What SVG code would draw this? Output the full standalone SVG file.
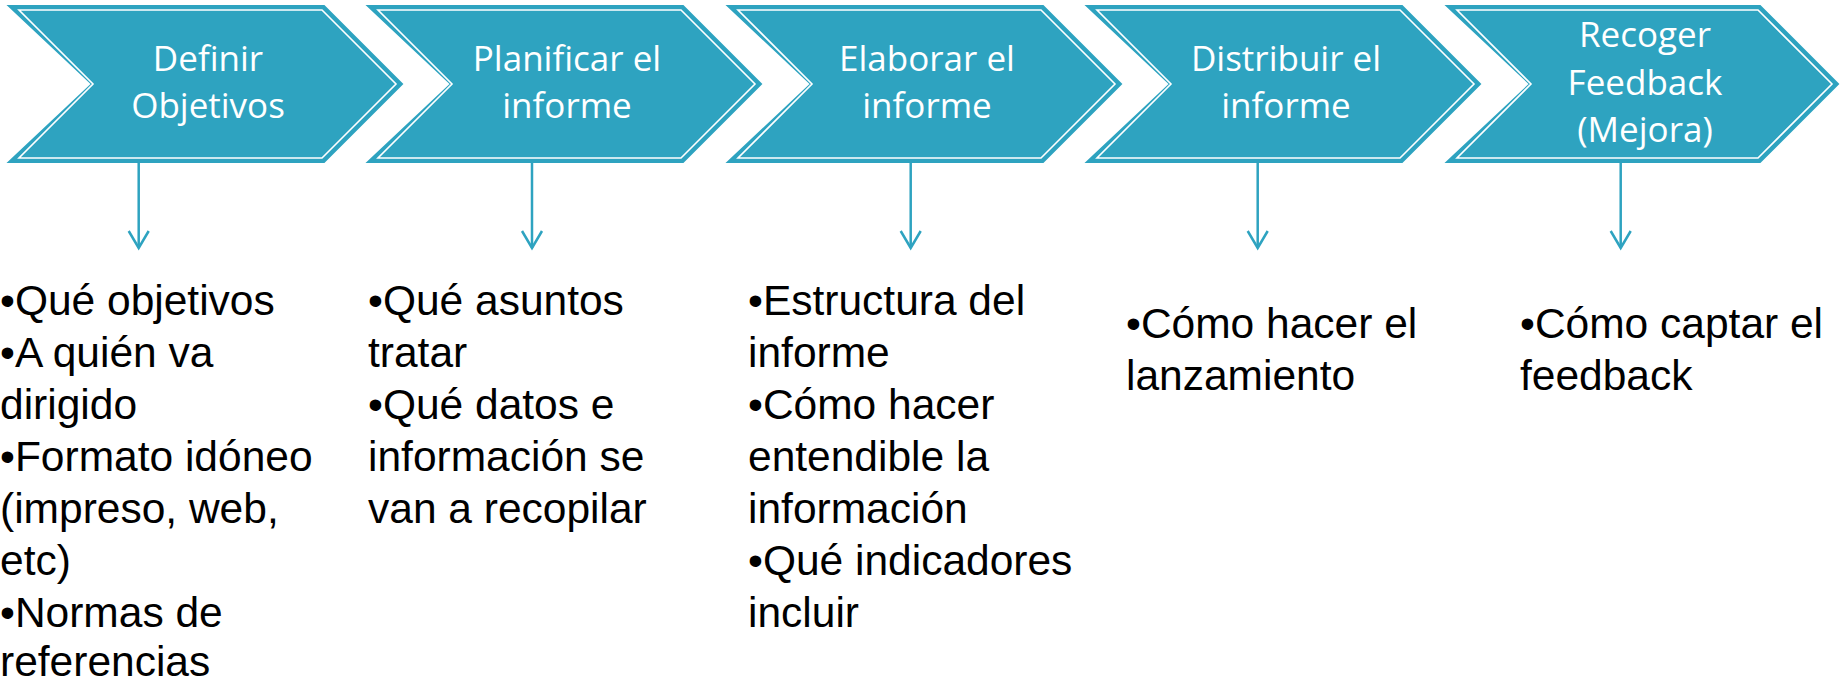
<svg xmlns="http://www.w3.org/2000/svg" width="1841" height="678" viewBox="0 0 1841 678">
  <defs>
    <style>
      .outer { fill: #2ea3c0; stroke: #2ea3c0; stroke-width: 2; stroke-linejoin: miter; }
      .inner { fill: #2ea3c0; stroke: #ffffff; stroke-width: 1.6; stroke-linejoin: miter; }
      .lbl { font-family: "Open Sans", "DejaVu Sans", sans-serif; font-size: 35px; fill: #ffffff; text-anchor: middle; }
      .body { font-family: "Liberation Sans", Arial, sans-serif; font-size: 42.5px; fill: #000000; }
      .conn { stroke: #2ea3c0; stroke-width: 2.5; fill: none; }
    </style>
  </defs>
  <rect width="1841" height="678" fill="#ffffff"/>

  <g id="step1">
    <polygon class="outer" points="9,6 324,6 402,84 324,162 9,162 92,84"/>
    <polygon class="inner" points="19,10 322,10 396,84 322,158 19,158 93,84"/>
    <text class="lbl" x="208" y="71">Definir</text>
    <text class="lbl" x="208" y="118">Objetivos</text>
  </g>
  <g id="step2">
    <polygon class="outer" points="368,6 683,6 761,84 683,162 368,162 451,84"/>
    <polygon class="inner" points="378,10 681,10 755,84 681,158 378,158 452,84"/>
    <text class="lbl" x="567" y="71">Planificar el</text>
    <text class="lbl" x="567" y="118">informe</text>
  </g>
  <g id="step3">
    <polygon class="outer" points="728,6 1043,6 1121,84 1043,162 728,162 811,84"/>
    <polygon class="inner" points="738,10 1041,10 1115,84 1041,158 738,158 812,84"/>
    <text class="lbl" x="927" y="71">Elaborar el</text>
    <text class="lbl" x="927" y="118">informe</text>
  </g>
  <g id="step4">
    <polygon class="outer" points="1087,6 1402,6 1480,84 1402,162 1087,162 1170,84"/>
    <polygon class="inner" points="1097,10 1400,10 1474,84 1400,158 1097,158 1171,84"/>
    <text class="lbl" x="1286" y="71">Distribuir el</text>
    <text class="lbl" x="1286" y="118">informe</text>
  </g>
  <g id="step5">
    <polygon class="outer" points="1447,6 1760,6 1838,84 1760,162 1447,162 1530,84"/>
    <polygon class="inner" points="1457,10 1758,10 1832,84 1758,158 1457,158 1531,84"/>
    <text class="lbl" x="1645" y="47">Recoger</text>
    <text class="lbl" x="1645" y="95">Feedback</text>
    <text class="lbl" x="1645" y="142">(Mejora)</text>
  </g>

  <g id="connectors">
    <path class="conn" d="M138.7,162 V248"/>
    <path class="conn" d="M128.7,231 L138.7,248 L148.7,231"/>
    <path class="conn" d="M532,162 V248"/>
    <path class="conn" d="M522,231 L532,248 L542,231"/>
    <path class="conn" d="M910.7,162 V248"/>
    <path class="conn" d="M900.7,231 L910.7,248 L920.7,231"/>
    <path class="conn" d="M1257.7,162 V248"/>
    <path class="conn" d="M1247.7,231 L1257.7,248 L1267.7,231"/>
    <path class="conn" d="M1620.7,162 V248"/>
    <path class="conn" d="M1610.7,231 L1620.7,248 L1630.7,231"/>
  </g>

  <g id="text1">
    <text class="body" x="0" y="315">•Qué objetivos</text>
    <text class="body" x="0" y="367">•A quién va</text>
    <text class="body" x="0" y="419">dirigido</text>
    <text class="body" x="0" y="471">•Formato idóneo</text>
    <text class="body" x="0" y="523">(impreso, web,</text>
    <text class="body" x="0" y="575">etc)</text>
    <text class="body" x="0" y="627">•Normas de</text>
    <text class="body" x="0" y="676">referencias</text>
  </g>
  <g id="text2">
    <text class="body" x="368" y="315">•Qué asuntos</text>
    <text class="body" x="368" y="367">tratar</text>
    <text class="body" x="368" y="419">•Qué datos e</text>
    <text class="body" x="368" y="471">información se</text>
    <text class="body" x="368" y="523">van a recopilar</text>
  </g>
  <g id="text3">
    <text class="body" x="748" y="315">•Estructura del</text>
    <text class="body" x="748" y="367">informe</text>
    <text class="body" x="748" y="419">•Cómo hacer</text>
    <text class="body" x="748" y="471">entendible la</text>
    <text class="body" x="748" y="523">información</text>
    <text class="body" x="748" y="575">•Qué indicadores</text>
    <text class="body" x="748" y="627">incluir</text>
  </g>
  <g id="text4">
    <text class="body" x="1126" y="338">•Cómo hacer el</text>
    <text class="body" x="1126" y="390">lanzamiento</text>
  </g>
  <g id="text5">
    <text class="body" x="1520" y="338">•Cómo captar el</text>
    <text class="body" x="1520" y="390">feedback</text>
  </g>
</svg>
